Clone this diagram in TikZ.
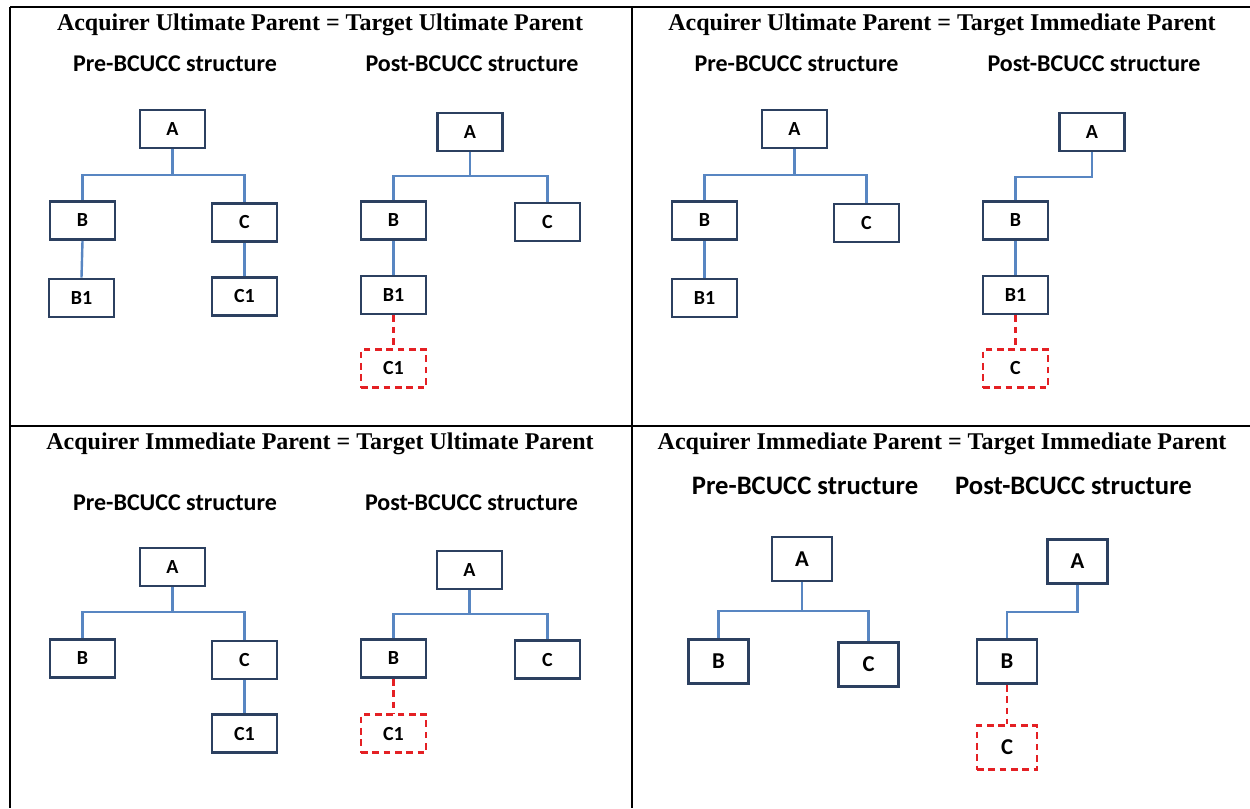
\documentclass[tikz,border=0pt]{standalone}
\usepackage{fontspec}
\setmainfont{Liberation Serif}
\newfontfamily\carlito{Carlito}
\definecolor{boxc}{RGB}{44,64,96}
\definecolor{connc}{RGB}{88,134,194}
\definecolor{redc}{RGB}{228,32,36}
\tikzset{
  titletext/.style={font=\bfseries\fontsize{18}{20}\selectfont, inner sep=0pt},
  subtext/.style={font=\carlito\bfseries\fontsize{18}{20}\selectfont, inner sep=0pt},
  subtextbig/.style={font=\carlito\bfseries\fontsize{20}{22}\selectfont, inner sep=0pt},
  entity/.style={draw=boxc, line width=2.2pt, fill=white, minimum width=48.75pt, minimum height=28.5pt, inner sep=0pt, font=\carlito\bfseries\fontsize{15}{16}\selectfont},
  entitybig/.style={entity, minimum width=45pt, minimum height=33pt, font=\carlito\bfseries\fontsize{17}{18}\selectfont},
  newentity/.style={entity, draw=redc, line width=1.8pt, dash pattern=on 5pt off 3.5pt},
  newentitybig/.style={entitybig, draw=redc, line width=1.8pt, dash pattern=on 5pt off 3.5pt},
  conn/.style={draw=connc, line width=1.8pt},
  newconn/.style={draw=redc, line width=1.8pt, dash pattern=on 5pt off 3.5pt},
  rule/.style={draw=black, line width=2pt}
}
\begin{document}
\begin{tikzpicture}[x=0.75pt, y=-0.75pt]
\useasboundingbox (0,0) rectangle (1250,808);
% table rules
\coordinate (tl) at (10,7);
\coordinate (tr) at (1250,7);
\coordinate (ml) at (10,426);
\coordinate (mr) at (1250,426);
\coordinate (tm) at (632,7);
\coordinate (bl) at (10,808);
\coordinate (bm) at (632,808);
\draw[rule] (tl) -- (tr);
\draw[rule] (ml) -- (mr);
\draw[rule] (tl) -- (bl);
\draw[rule] (tm) -- (bm);

% ===== Panel 1 =====
\node[titletext] (t1) at (320,25) {Acquirer Ultimate Parent = Target Ultimate Parent};
\node[subtext] (s1a) at (175,64) {Pre-BCUCC structure};
\node[subtext] (s1b) at (472,64) {Post-BCUCC structure};
\node[entity] (p1A) at (172.5,129) {A};
\node[entity] (p1B) at (82.5,220.5) {B};
\node[entity] (p1C) at (244.5,222.5) {C};
\node[entity] (p1B1) at (81.5,298) {B1};
\node[entity] (p1C1) at (244.5,296.5) {C1};
\coordinate (j1) at (172.5,175);
\draw[conn] (p1A.south) -- (j1) -| (p1B.north);
\draw[conn] (j1) -| (p1C.north);
\draw[conn] (p1B.south) -- (p1B1.north);
\draw[conn] (p1C.south) -- (p1C1.north);

\node[entity] (q1A) at (470,132) {A};
\node[entity] (q1B) at (393.5,220.5) {B};
\node[entity] (q1C) at (547.5,222) {C};
\node[entity] (q1B1) at (393.5,295) {B1};
\node[newentity] (q1C1) at (393.5,368.5) {C1};
\coordinate (j2) at (470,176);
\draw[conn] (q1A.south) -- (j2) -| (q1B.north);
\draw[conn] (j2) -| (q1C.north);
\draw[conn] (q1B.south) -- (q1B1.north);
\draw[newconn] (q1B1.south) -- (q1C1.north);

% ===== Panel 2 =====
\node[titletext] (t2) at (942,25) {Acquirer Ultimate Parent = Target Immediate Parent};
\node[subtext] (s2a) at (796.5,64) {Pre-BCUCC structure};
\node[subtext] (s2b) at (1094,64) {Post-BCUCC structure};
\node[entity] (p2A) at (794.5,129) {A};
\node[entity] (p2B) at (704.5,220.5) {B};
\node[entity] (p2C) at (866.5,223) {C};
\node[entity] (p2B1) at (704.5,298) {B1};
\coordinate (j3) at (794.5,175);
\draw[conn] (p2A.south) -- (j3) -| (p2B.north);
\draw[conn] (j3) -| (p2C.north);
\draw[conn] (p2B.south) -- (p2B1.north);

\node[entity] (q2A) at (1092,132) {A};
\node[entity] (q2B) at (1015.5,220.5) {B};
\node[entity] (q2B1) at (1015.5,295) {B1};
\node[newentity] (q2C) at (1015.5,368.5) {C};
\coordinate (j4) at (1092,177);
\draw[conn] (q2A.south) -- (j4) -| (q2B.north);
\draw[conn] (q2B.south) -- (q2B1.north);
\draw[newconn] (q2B1.south) -- (q2C.north);

% ===== Panel 3 =====
\node[titletext] (t3) at (320,444) {Acquirer Immediate Parent = Target Ultimate Parent};
\node[subtext] (s3a) at (175,503) {Pre-BCUCC structure};
\node[subtext] (s3b) at (471.5,503) {Post-BCUCC structure};
\node[entity] (p3A) at (172.5,567) {A};
\node[entity] (p3B) at (82.5,658.5) {B};
\node[entity] (p3C) at (244.5,660) {C};
\node[entity] (p3C1) at (244.5,733.5) {C1};
\coordinate (j5) at (172.5,612);
\draw[conn] (p3A.south) -- (j5) -| (p3B.north);
\draw[conn] (j5) -| (p3C.north);
\draw[conn] (p3C.south) -- (p3C1.north);

\node[entity] (q3A) at (469.5,570) {A};
\node[entity] (q3B) at (393.5,658.5) {B};
\node[entity] (q3C) at (547.5,659.5) {C};
\node[newentity] (q3C1) at (393.5,733.5) {C1};
\coordinate (j6) at (469.5,614);
\draw[conn] (q3A.south) -- (j6) -| (q3B.north);
\draw[conn] (j6) -| (q3C.north);
\draw[newconn] (q3B.south) -- (q3C1.north);

% ===== Panel 4 =====
\node[titletext] (t4) at (942,444) {Acquirer Immediate Parent = Target Immediate Parent};
\node[subtextbig] (s4a) at (805,486) {Pre-BCUCC structure};
\node[subtextbig] (s4b) at (1073.5,486) {Post-BCUCC structure};
\node[entitybig] (p4A) at (802,559) {A};
\node[entitybig] (p4B) at (718.5,661.5) {B};
\node[entitybig] (p4C) at (868.5,664.5) {C};
\coordinate (j7) at (802,611);
\draw[conn] (p4A.south) -- (j7) -| (p4B.north);
\draw[conn] (j7) -| (p4C.north);

\node[entitybig] (q4A) at (1077.5,561.5) {A};
\node[entitybig] (q4B) at (1007,661.5) {B};
\node[newentitybig] (q4C) at (1007,747.5) {C};
\coordinate (j8) at (1077.5,612);
\draw[conn] (q4A.south) -- (j8) -| (q4B.north);
\draw[newconn] (q4B.south) -- (q4C.north);
\end{tikzpicture}
\end{document}
